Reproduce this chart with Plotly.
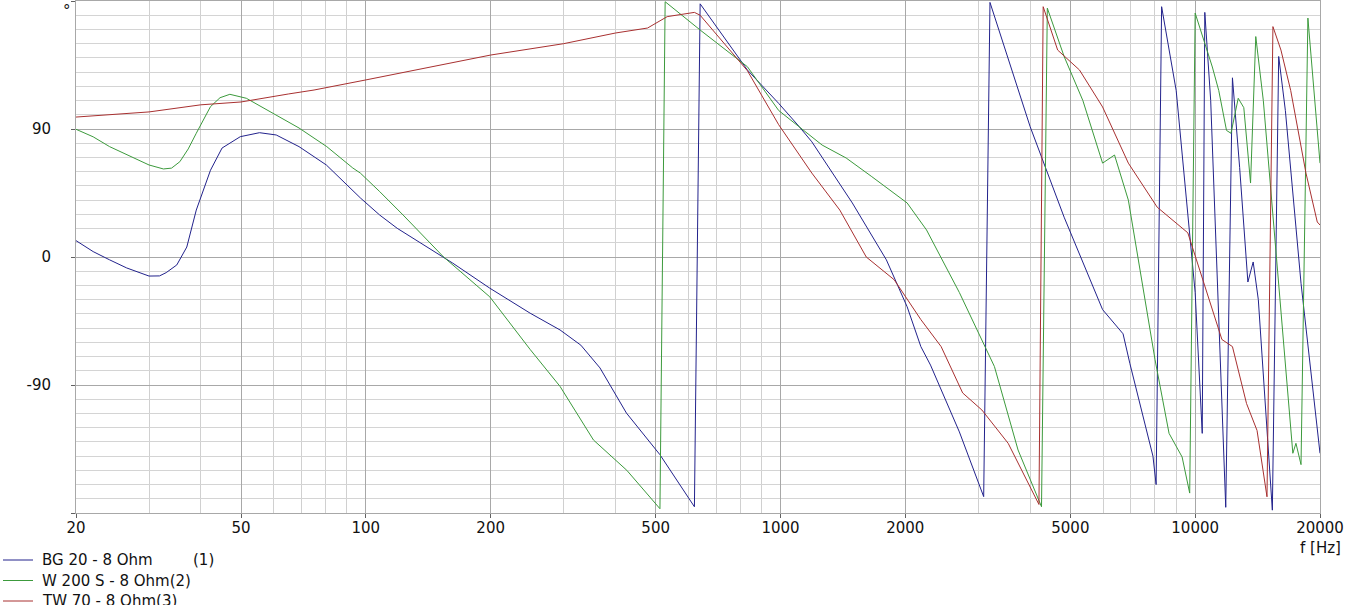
import plotly.graph_objects as go

# ---- data (frequency in Hz, phase in degrees) ----
series_names = ["BG 20 - 8 Ohm", "W 200 S - 8 Ohm", "TW 70 - 8 Ohm"]
series_tags = ["(1)", "(2)", "(3)"]
series_colors = ["#22228c", "#3c9a3c", "#a83030"]

bg20_freq = [20, 22, 24.1, 26.5, 30, 31.8, 33, 35, 37, 39, 42.2, 45, 49.8, 55.4, 60.8, 69, 80.3, 90.8, 97.2,
             108, 119, 162, 199, 249, 294, 330, 367, 425, 512, 620, 640, 832, 990, 1107, 1190, 1490,
             1800, 2020, 2180, 2300, 2700, 3090, 3200, 4000, 4830, 5980, 6700, 6960, 7910, 8050, 8300,
             9000, 9600, 10000, 10400, 10550, 10900, 11500, 11850, 12300, 12800, 13400, 13800, 14200,
             14900, 15350, 15900, 16500, 18000, 20000]
bg20_phase = [11.5, 3.8, -2, -7.7, -13.4, -13.3, -11, -5.6, 7, 33, 61, 76.6, 84.6, 87.4, 85.8, 77.6, 64.7, 49.4, 41.3,
              29.5, 20.2, -4.3, -21.9, -39.5, -51.3, -62, -78, -109.7, -139, -175.6, 178, 131.5, 108, 92, 81, 38,
              -2, -35, -63, -76, -123, -168.5, 179, 91.6, 28, -37, -54, -75, -140, -160, 176,
              117, 28, -25, -124, 172, 110, -65, -176, 126, 63, -17.6, -3.5, -30,
              -124, -178, 141, 103, -18.5, -138]

w200_freq = [20, 22, 24.1, 27, 30, 32.5, 34, 35.6, 37.3, 39, 42.2, 44.5, 47, 51.5, 59.8, 69, 80.5, 93, 97, 108,
             123, 154, 199, 249, 294, 354, 426, 512, 527, 640, 832, 990, 1260, 1440, 1660, 2020, 2250,
             2700, 3280, 3740, 4260, 4400, 4830, 5360, 5980, 6390, 6900, 8000, 8650, 9300, 9700, 10000,
             11000, 11400, 11900, 12200, 12700, 13100, 13600, 14000, 14600, 15200, 17200, 17500, 18000,
             18700, 20000]
w200_phase = [89.8, 84.5, 77.6, 71, 64.7, 61.9, 62.5, 67, 76, 87, 105.7, 112, 114.4, 111.6, 101, 90.7, 77.6, 62.6, 59, 46,
              29.5, 0, -28, -65, -91, -128.7, -150, -177, 179.5, 159.6, 133.8, 103, 78.7, 69.6, 56.5, 38, 19,
              -25, -77, -135.7, -175.6, 175, 141, 110, 66, 71.7, 40, -72, -124, -140.6, -166, 171.5,
              133.6, 117, 89, 87, 111.6, 105, 52, 155, 110, 49, -138, -131, -146,
              168, 66]

tw70_freq = [20, 30, 40, 50, 65, 75, 100, 200, 300, 400, 478, 533, 620, 640, 832, 990, 1190, 1390,
             1610, 1880, 2180, 2440, 2750, 3060, 3540, 4200, 4300, 4660, 5260, 5980, 6900, 8100,
             9600, 10500, 11600, 12300, 13300, 14100, 14900, 15400, 16100, 17000, 18500, 19700, 20000]
tw70_phase = [98.4, 102, 107, 109, 114.6, 117.4, 124.5, 142, 150, 157.5, 161, 169, 172, 170, 131, 93, 59, 33,
              0, -16, -44, -63, -95.6, -107.6, -131, -174, 176, 145.5, 131.5, 105.5, 66, 35,
              17, -18.5, -58, -63, -103, -122, -168.6, 162, 145.5, 117, 59, 24.6, 22.5]

x_tick_vals = [20, 50, 100, 200, 500, 1000, 2000, 5000, 10000, 20000]
x_tick_text = ["20", "50", "100", "200", "500", "1000", "2000", "5000", "10000", "20000"]
x_minor_vals = [30, 40, 60, 70, 80, 90, 300, 400, 600, 700, 800, 900,
                3000, 4000, 6000, 7000, 8000, 9000]
y_tick_vals = [-180, -90, 0, 90, 180]
y_tick_text = ["", "-90", "0", "90", ""]

FONT = "DejaVu Sans"

fig = go.Figure()
for name, fx, ph, col in zip(series_names,
                             [bg20_freq, w200_freq, tw70_freq],
                             [bg20_phase, w200_phase, tw70_phase],
                             series_colors):
    fig.add_trace(go.Scatter(x=fx, y=ph, mode="lines", name=name,
                             line=dict(color=col, width=1), showlegend=False))

fig.update_xaxes(type="log", range=[1.30103, 4.30103],
                 tickvals=x_tick_vals, ticktext=x_tick_text,
                 showgrid=True, gridcolor="#a8a8a8", gridwidth=1,
                 ticks="outside", ticklen=4, tickcolor="#606060",
                 ticklabelstandoff=-3,
                 minor=dict(tickvals=x_minor_vals, showgrid=True, gridcolor="#d0d0d0", ticks=""),
                 showline=True, linecolor="#a8a8a8", mirror=True, zeroline=False,
                 tickfont=dict(family=FONT, size=15, color="#111111"))
fig.update_yaxes(range=[-180, 180], tickvals=y_tick_vals, ticktext=y_tick_text,
                 showgrid=True, gridcolor="#a8a8a8", gridwidth=1,
                 ticks="outside", ticklen=4, tickcolor="#606060",
                 ticklabelstandoff=17,
                 minor=dict(dtick=10, tick0=0, showgrid=True, gridcolor="#d4d4d4", ticks=""),
                 showline=True, linecolor="#a8a8a8", mirror=True, zeroline=False,
                 tickfont=dict(family=FONT, size=15, color="#111111"))

annotations = [
    dict(x=67, y=0, text="°", yanchor="top", font=dict(family=FONT, size=15, color="#111111")),
    dict(x=1320, y=548, text="f [Hz]", font=dict(family=FONT, size=15, color="#111111")),
]
shapes = []
for i, (name, tag, col) in enumerate(zip(series_names, series_tags, series_colors)):
    yc = 560 + 20.5 * i
    shapes.append(dict(type="line", xref="paper", yref="paper",
                       x0=(3 - 76) / 1244, x1=(33 - 76) / 1244,
                       y0=(513 - yc) / 512, y1=(513 - yc) / 512,
                       line=dict(color=col, width=1)))
    if i == 0:
        annotations.append(dict(x=40, y=yc, text=name, xanchor="left",
                                font=dict(family=FONT, size=15, color="#111111")))
        annotations.append(dict(x=191, y=yc, text=tag, xanchor="left",
                                font=dict(family=FONT, size=15, color="#111111")))
    else:
        annotations.append(dict(x=40, y=yc, text=name + tag, xanchor="left",
                                font=dict(family=FONT, size=15, color="#111111")))

ann_out = []
for a in annotations:
    xa = a.pop("xanchor", "center")
    ya = a.pop("yanchor", "middle")
    ann_out.append(dict(xref="paper", yref="paper", x=(a["x"] - 76) / 1244,
                        y=(513 - a["y"]) / 512, text=a["text"], showarrow=False,
                        xanchor=xa, yanchor=ya, font=a["font"]))

fig.update_layout(width=1366, height=605, margin=dict(l=76, r=46, t=1, b=92),
                  paper_bgcolor="white", plot_bgcolor="white",
                  annotations=ann_out, shapes=shapes, showlegend=False)

fig.write_html("out.html", config={"displayModeBar": False},
               post_script="document.body.style.margin='0';document.body.style.overflow='hidden';")
